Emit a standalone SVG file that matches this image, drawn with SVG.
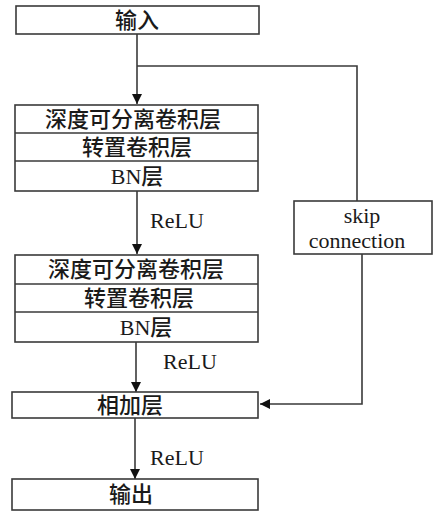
<svg xmlns="http://www.w3.org/2000/svg" width="438" height="513" viewBox="0 0 438 513">
  <style>
    .box { fill: #ffffff; stroke: #3a3a3a; stroke-width: 1.6; }
    .div { stroke: #3a3a3a; stroke-width: 1.4; }
    .line { fill: none; stroke: #3a3a3a; stroke-width: 1.6; }
    .zh { font-family: "Liberation Serif", "Noto Sans CJK SC", serif; font-size: 22px; font-weight: 500; fill: #1a1a1a; text-anchor: middle; dominant-baseline: central; }
    .en { font-family: "Liberation Serif", "Noto Serif", serif; font-size: 22px; fill: #1a1a1a; text-anchor: middle; }
  </style>
  <defs>
    <marker id="arrow" viewBox="0 0 10 10" refX="10" refY="5" markerWidth="10" markerHeight="10" markerUnits="userSpaceOnUse" orient="auto">
      <path d="M0,0 L10,5 L0,10 Z" fill="#111"/>
    </marker>
  </defs>
  <rect width="438" height="513" fill="#ffffff"/>

  <g id="connectors">
    <path class="line" d="M137,34 V104" marker-end="url(#arrow)"/>
    <path class="line" d="M137,66 H357 V201"/>
    <path class="line" d="M137,191 V254" marker-end="url(#arrow)"/>
    <path class="line" d="M136,342 V392" marker-end="url(#arrow)"/>
    <path class="line" d="M362,254 V404 H260" marker-end="url(#arrow)"/>
    <path class="line" d="M135,418 V479" marker-end="url(#arrow)"/>
    <text class="en" x="177" y="228">ReLU</text>
    <text class="en" x="190" y="369">ReLU</text>
    <text class="en" x="177" y="465">ReLU</text>
  </g>

  <g id="input">
    <rect class="box" x="16" y="6" width="243" height="28"/>
    <text class="zh" x="137" y="20">输入</text>
  </g>

  <g id="block1">
    <rect class="box" x="15" y="105" width="243" height="86"/>
    <line class="div" x1="15" y1="133" x2="258" y2="133"/>
    <line class="div" x1="15" y1="161" x2="258" y2="161"/>
    <text class="zh" x="133" y="119">深度可分离卷积层</text>
    <text class="zh" x="137" y="147">转置卷积层</text>
    <text class="zh" x="137" y="176">BN层</text>
  </g>

  <g id="skip">
    <rect class="box" x="294" y="201" width="138" height="53"/>
    <text class="en" x="362" y="223">skip</text>
    <text class="en" x="357" y="248">connection</text>
  </g>

  <g id="block2">
    <rect class="box" x="15" y="255" width="243" height="87"/>
    <line class="div" x1="15" y1="284" x2="258" y2="284"/>
    <line class="div" x1="15" y1="312" x2="258" y2="312"/>
    <text class="zh" x="136" y="269">深度可分离卷积层</text>
    <text class="zh" x="139" y="298">转置卷积层</text>
    <text class="zh" x="146" y="327">BN层</text>
  </g>

  <g id="add">
    <rect class="box" x="12" y="392" width="246" height="26"/>
    <text class="zh" x="130" y="405">相加层</text>
  </g>

  <g id="output">
    <rect class="box" x="12" y="479" width="246" height="31"/>
    <text class="zh" x="131" y="494">输出</text>
  </g>
</svg>
